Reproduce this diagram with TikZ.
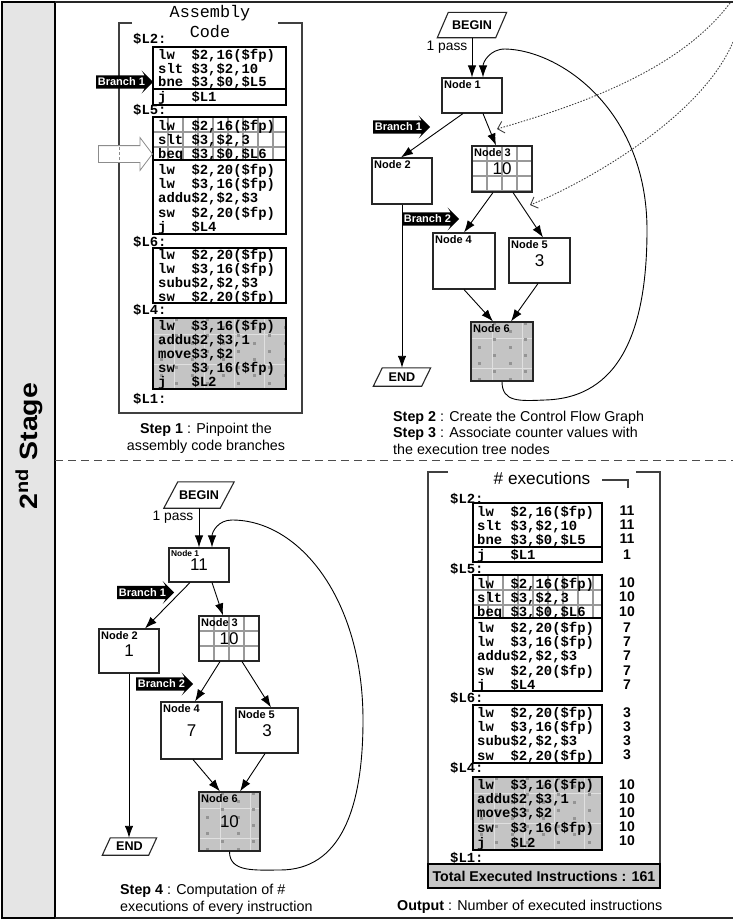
\documentclass[tikz,border=0pt]{standalone}
\usepackage{graphicx}
\usepackage{fontspec}
\setmainfont{Liberation Sans}
\newfontfamily\codefont{Liberation Mono}
\usetikzlibrary{arrows.meta,shapes.arrows,calc}

\newcommand\fs[1]{\fontsize{#1pt}{#1pt}\selectfont}

\tikzset{
  codeln/.style={anchor=west, inner sep=0pt, text height=9.6pt, text depth=0pt, font=\codefont\bfseries\fs{13.9}},
  cnt/.style={inner sep=0pt, font=\bfseries\fs{14}},
  box/.style={draw=black, line width=1.1pt},
  frameln/.style={draw=black!75, line width=1.2pt},
  gridln/.style={draw=black!40, line width=1.1pt},
  faintln/.style={draw=black!12, line width=0.8pt},
  dotc/.style={fill=black!42},
  cfg/.style={draw=black!85, line width=1.1pt, inner sep=0pt, font=\fs{17}},
  term/.style={inner sep=0pt, font=\bfseries\fs{12.6}},
  termln/.style={draw=black!85, line width=1.1pt},
  edge/.style={draw=black, line width=0.9pt, -{Latex[length=12pt,width=8.5pt]}},
  branch/.style={shape=single arrow, fill=black, text=white, font=\bfseries\fs{11}, inner xsep=1.5pt, inner ysep=2.3pt, single arrow head extend=5pt, single arrow head indent=3pt, minimum height=56pt, anchor=tail},
  nlab/.style={font=\bfseries\fs{11}, inner sep=2.5pt, anchor=north west},
  nlabs/.style={font=\bfseries\fs{8.4}, inner sep=2.5pt, anchor=north west},
  stepsty/.style={font=\fs{14.3}, inner sep=0pt},
  ptr/.style={draw=black!75, line width=0.9pt, dash pattern=on 1.5pt off 1.5pt, -{Straight Barb[length=6pt,width=12pt]}},
}

\newcommand\gridpat[4]{%
  \fill[white] (#1,#2) rectangle (#3,#4);
  \begin{scope}
    \clip (#1,#2) rectangle (#3,#4);
    \foreach \k in {1,...,9} {\draw[gridln] ({#1+15*\k},#2) -- ({#1+15*\k},#4);}
    \foreach \k in {1,2,3} {\draw[gridln] (#1,{#2+15*\k}) -- (#3,{#2+15*\k});}
  \end{scope}}

\newcommand\dotpat[4]{%
  \fill[black!23] (#1,#2) rectangle (#3,#4);
  \begin{scope}
    \clip (#1,#2) rectangle (#3,#4);
    \foreach \k in {0,...,4} {\draw[faintln] ({#1+21+30*\k},#2) -- ({#1+21+30*\k},#4);}
    \foreach \k in {0,1,2} {\draw[faintln] (#1,{#2+16+30*\k}) -- (#3,{#2+16+30*\k});}
    \foreach \i in {0,...,4} {\foreach \j in {0,...,4} {
      \fill[dotc] ({#1+6.5+31*\i},{#2+7.5+16*\j}) rectangle ++(3,3);
      \fill[dotc] ({#1+21.5+31*\i},{#2-0.5+16*\j}) rectangle ++(3,3);
    }}
  \end{scope}}

\newcommand\para[2]{\draw[termln] ($(#1.south west)+(-#2,0)$) -- ($(#1.north west)+(#2,0)$) -- ($(#1.north east)+(#2,0)$) -- ($(#1.south east)+(-#2,0)$) -- cycle;}
\newcommand\cln[4]{\node[codeln] (#1) at (#2,#3) {#4};}
\newcommand\cnum[3]{\node[cnt] (#1) at (627,#2) {#3};}

\begin{document}
\begin{tikzpicture}[x=1pt,y=-1pt]
\useasboundingbox (0,0) rectangle (732,921);

% ---------- outer frame ----------
\filldraw[fill=black!10, draw=black, line width=1.5pt] (2,2) rectangle (55,918);
\draw[black!85, line width=1.8pt] (55,2) -- (740,2);
\draw[black!85, line width=1.8pt] (55,918) -- (740,918);
\draw[black!70, line width=0.9pt, dash pattern=on 8pt off 5pt] (55,460) -- (740,460);
\node[rotate=90, font=\bfseries\fs{25}, inner sep=0pt] (stg) at (29,446) {\scalebox{1.14}[1]{2\textsuperscript{nd} Stage}};

% ---------- Step 1: assembly code ----------
\node[font=\codefont\fs{16.8}, inner sep=0pt] (asm1) at (210,13) {Assembly};
\node[font=\codefont\fs{16.8}, inner sep=0pt] (asm2) at (210,32) {Code};
\draw[frameln] (132,23) -- (119,23) -- (119,413) -- (302,413) -- (302,23) -- (278,23);

\gridpat{153}{117}{286}{160}
\dotpat{153}{318}{286}{389}
\draw[box] (153,47) rectangle (286,89);
\draw[box] (153,89) rectangle (286,105);
\draw[box] (153,117) rectangle (286,160);
\draw[box] (153,160) rectangle (286,234);
\draw[box] (153,248) rectangle (286,303);
\draw[box] (153,318) rectangle (286,389);

\cln{aL2}{133}{39}{\$L2:}
\cln{a1}{158}{55}{lw~~\$2,16(\$fp)}
\cln{a2}{158}{68.5}{slt~\$3,\$2,10}
\cln{a3}{158}{82}{bne~\$3,\$0,\$L5}
\cln{a4}{158}{97}{j~~~\$L1}
\cln{aL5}{133}{110}{\$L5:}
\cln{a5}{158}{126}{lw~~\$2,16(\$fp)}
\cln{a6}{158}{140}{slt~\$3,\$2,3}
\cln{a7}{158}{154}{beq~\$3,\$0,\$L6}
\cln{a8}{158}{170}{lw~~\$2,20(\$fp)}
\cln{a9}{158}{184}{lw~~\$3,16(\$fp)}
\cln{a10}{158}{198}{addu\$2,\$2,\$3}
\cln{a11}{158}{213}{sw~~\$2,20(\$fp)}
\cln{a12}{158}{227}{j~~~\$L4}
\cln{aL6}{133}{242}{\$L6:}
\cln{a13}{158}{255}{lw~~\$2,20(\$fp)}
\cln{a14}{158}{269}{lw~~\$3,16(\$fp)}
\cln{a15}{158}{283}{subu\$2,\$2,\$3}
\cln{a16}{158}{297}{sw~~\$2,20(\$fp)}
\cln{aL4}{133}{310}{\$L4:}
\cln{a17}{158}{326}{lw~~\$3,16(\$fp)}
\cln{a18}{158}{340}{addu\$2,\$3,1}
\cln{a19}{158}{354}{move\$3,\$2}
\cln{a20}{158}{368}{sw~~\$3,16(\$fp)}
\cln{a21}{158}{382}{j~~~\$L2}
\cln{aL1}{133}{399}{\$L1:}

\node[branch] (br0) at (96,82) {Branch 1};
\node[shape=single arrow, draw=black!45, fill=white, line width=0.8pt, minimum height=54pt, inner xsep=0pt, inner ysep=8pt, single arrow head extend=8pt, single arrow tip angle=106, anchor=tail] (harr) at (98,154) {};
\draw[black!45, line width=0.8pt, densely dashed] (119,147) -- (119,161);

\node[stepsty, anchor=base] (s1a) at (206,433) {\textbf{Step 1} : Pinpoint the};
\node[stepsty, anchor=base] (s1b) at (206,450) {assembly code branches};

% ---------- Step 2/3: CFG ----------
\gridpat{472}{146}{532}{192}
\dotpat{471}{322}{533}{381}

\node[term, minimum width=58pt, minimum height=25pt] (b1) at (472,25) {BEGIN};
\para{b1}{5.5}
\node[inner sep=0pt, font=\fs{13.8}] (p1) at (447,47) {1 pass};
\node[cfg, minimum width=60pt, minimum height=35pt, label={[nlab]north west:Node 1}] (t1) at (472,95.5) {};
\node[cfg, minimum width=60pt, minimum height=46pt, label={[nlab]north west:Node 2}] (t2) at (402,181) {};
\node[cfg, minimum width=60pt, minimum height=46pt, label={[nlab]north west:Node 3}] (t3) at (502,169) {10};
\node[cfg, minimum width=62pt, minimum height=56pt, label={[nlab]north west:Node 4}] (t4) at (464,261) {};
\node[cfg, minimum width=61pt, minimum height=45pt, label={[nlab]north west:Node 5}] (t5) at (539.5,260.5) {3};
\node[cfg, minimum width=62pt, minimum height=59pt, label={[nlab]north west:Node 6}] (t6) at (502,351.5) {};
\node[term, minimum width=48pt, minimum height=18pt] (e1) at (402,377) {END};
\para{e1}{4.5}

\node[branch] (br1) at (373,127) {Branch 1};
\node[branch] (br2) at (402,219) {Branch 2};

\draw[edge] (b1.south) -- (t1.north);
\draw[edge] ([xshift=-9pt]t1.south) -- ([xshift=-1pt]t2.north);
\draw[edge] ([xshift=11pt]t1.south) -- ([xshift=-6pt]t3.north);
\draw[edge] ([xshift=-9pt]t3.south) -- (t4.north);
\draw[edge] ([xshift=11pt]t3.south) -- ([xshift=3.5pt]t5.north);
\draw[edge] (t4.south) -- ([xshift=-9pt]t6.north);
\draw[edge] ([xshift=-1.5pt]t5.south) -- ([xshift=9pt]t6.north);
\draw[edge] (t2.south) -- (e1.north);
\draw[edge] (t6.south) .. controls +(0,21) and (520,401) .. (545,400)
  .. controls (620,398) and (647,330) .. (647,230)
  .. controls (647,110) and (560,50) .. (505,49)
  .. controls (490,49) and (483,62) .. ([xshift=11pt]t1.north);

\coordinate (q1s) at (730,3);
\coordinate (q1e) at (497,129);
\coordinate (q2s) at (733,42);
\coordinate (q2e) at (530,205);
\draw[ptr] (q1s) .. controls (680,70) and (580,105) .. (q1e);
\draw[ptr] (q2s) .. controls (700,120) and (580,185) .. (q2e);

\node[stepsty, anchor=base west] (s2) at (393,421) {\textbf{Step 2} : Create the Control Flow Graph};
\node[stepsty, anchor=base west] (s3a) at (393,437.5) {\textbf{Step 3} : Associate counter values with};
\node[stepsty, anchor=base west] (s3b) at (393,454) {the execution tree nodes};

% ---------- Step 4: CFG with counts ----------
\gridpat{199}{616}{259}{661}
\dotpat{199}{792}{260}{851}

\node[term, minimum width=56pt, minimum height=26pt] (b2) at (199,495) {BEGIN};
\para{b2}{7}
\node[inner sep=0pt, font=\fs{13.8}] (p2) at (173,517) {1 pass};
\node[cfg, minimum width=60pt, minimum height=34pt, label={[nlabs]north west:Node 1}] (u1) at (199,565) {11};
\node[cfg, minimum width=60pt, minimum height=44pt, label={[nlab]north west:Node 2}] (u2) at (129,651) {1};
\node[cfg, minimum width=60pt, minimum height=45pt, label={[nlab]north west:Node 3}] (u3) at (229,638.5) {10};
\node[cfg, minimum width=61pt, minimum height=57pt, label={[nlab]north west:Node 4}] (u4) at (191.5,730.5) {7};
\node[cfg, minimum width=62pt, minimum height=45pt, label={[nlab]north west:Node 5}] (u5) at (267,730.5) {3};
\node[cfg, minimum width=61pt, minimum height=59pt, label={[nlab]north west:Node 6}] (u6) at (229.5,821.5) {10};
\node[term, minimum width=46pt, minimum height=17pt] (e2) at (129.5,846.5) {END};
\para{e2}{4}

\node[branch] (br3) at (117,592.5) {Branch 1};
\node[branch] (br4) at (136,684) {Branch 2};

\draw[edge] (b2.south) -- (u1.north);
\draw[edge] ([xshift=-9pt]u1.south) -- ([xshift=16pt]u2.north);
\draw[edge] ([xshift=13pt]u1.south) -- ([xshift=-6pt]u3.north);
\draw[edge] ([xshift=-9pt]u3.south) -- ([xshift=3.5pt]u4.north);
\draw[edge] ([xshift=13pt]u3.south) -- ([xshift=4pt]u5.north);
\draw[edge] ([xshift=1.5pt]u4.south) -- ([xshift=-9.5pt]u6.north);
\draw[edge] ([xshift=-2pt]u5.south) -- ([xshift=10.5pt]u6.north);
\draw[edge] (u2.south) -- (u2.south |- e2.north);
\draw[edge] (u6.south) .. controls +(0,21) and (255,870) .. (280,870)
  .. controls (340,870) and (363,810) .. (363,720)
  .. controls (363,600) and (300,520) .. (232,520)
  .. controls (218,520) and (212,532) .. ([xshift=13pt]u1.north);

\node[stepsty, anchor=base west] (s4a) at (120,894) {\textbf{Step 4} : Computation of \#};
\node[stepsty, anchor=base west] (s4b) at (120,911) {executions of every instruction};

% ---------- Output: executed instructions ----------
\node[inner sep=0pt, font=\fs{17.2}] (exh) at (542,478) {\# executions};
\draw[frameln] (448,472) -- (428,472) -- (428,888) -- (660,888) -- (660,472) -- (636,472);
\draw[frameln] (602,480) -- (628,480) -- (628,488);

\gridpat{473}{575}{602}{618}
\dotpat{473}{777}{602}{850}
\draw[box] (473,503) rectangle (602,547);
\draw[box] (473,547) rectangle (602,562);
\draw[box] (473,575) rectangle (602,618);
\draw[box] (473,618) rectangle (602,691);
\draw[box] (473,705) rectangle (602,763);
\draw[box] (473,777) rectangle (602,850);

\cln{bL2}{450}{499}{\$L2:}
\cln{c1}{477}{512}{lw~~\$2,16(\$fp)}
\cln{c2}{477}{526}{slt~\$3,\$2,10}
\cln{c3}{477}{540}{bne~\$3,\$0,\$L5}
\cln{c4}{477}{555}{j~~~\$L1}
\cln{bL5}{450}{569}{\$L5:}
\cln{c5}{477}{584}{lw~~\$2,16(\$fp)}
\cln{c6}{477}{598}{slt~\$3,\$2,3}
\cln{c7}{477}{612}{beq~\$3,\$0,\$L6}
\cln{c8}{477}{628}{lw~~\$2,20(\$fp)}
\cln{c9}{477}{642}{lw~~\$3,16(\$fp)}
\cln{c10}{477}{656}{addu\$2,\$2,\$3}
\cln{c11}{477}{671}{sw~~\$2,20(\$fp)}
\cln{c12}{477}{685}{j~~~\$L4}
\cln{bL6}{450}{698}{\$L6:}
\cln{c13}{477}{713}{lw~~\$2,20(\$fp)}
\cln{c14}{477}{727}{lw~~\$3,16(\$fp)}
\cln{c15}{477}{741}{subu\$2,\$2,\$3}
\cln{c16}{477}{756}{sw~~\$2,20(\$fp)}
\cln{bL4}{450}{768}{\$L4:}
\cln{c17}{477}{785}{lw~~\$3,16(\$fp)}
\cln{c18}{477}{799}{addu\$2,\$3,1}
\cln{c19}{477}{813}{move\$3,\$2}
\cln{c20}{477}{828}{sw~~\$3,16(\$fp)}
\cln{c21}{477}{843}{j~~~\$L2}
\cln{bL1}{450}{858}{\$L1:}

\cnum{n1}{511}{11}
\cnum{n2}{525}{11}
\cnum{n3}{539}{11}
\cnum{n4}{555}{1}
\cnum{n5}{583}{10}
\cnum{n6}{597}{10}
\cnum{n7}{612}{10}
\cnum{n8}{628}{7}
\cnum{n9}{642}{7}
\cnum{n10}{656}{7}
\cnum{n11}{671}{7}
\cnum{n12}{685}{7}
\cnum{n13}{713}{3}
\cnum{n14}{727}{3}
\cnum{n15}{741}{3}
\cnum{n16}{755}{3}
\cnum{n17}{785}{10}
\cnum{n18}{799}{10}
\cnum{n19}{813}{10}
\cnum{n20}{827}{10}
\cnum{n21}{841}{10}

\node[draw=black, line width=1.2pt, fill=black!22, minimum width=232pt, minimum height=24pt, inner sep=0pt, font=\bfseries\fs{14.2}] (tot) at (544,876) {Total Executed Instructions : 161};

\node[stepsty, anchor=base west] (out) at (397,910) {\textbf{Output} : Number of executed instructions};

\end{tikzpicture}
\end{document}
